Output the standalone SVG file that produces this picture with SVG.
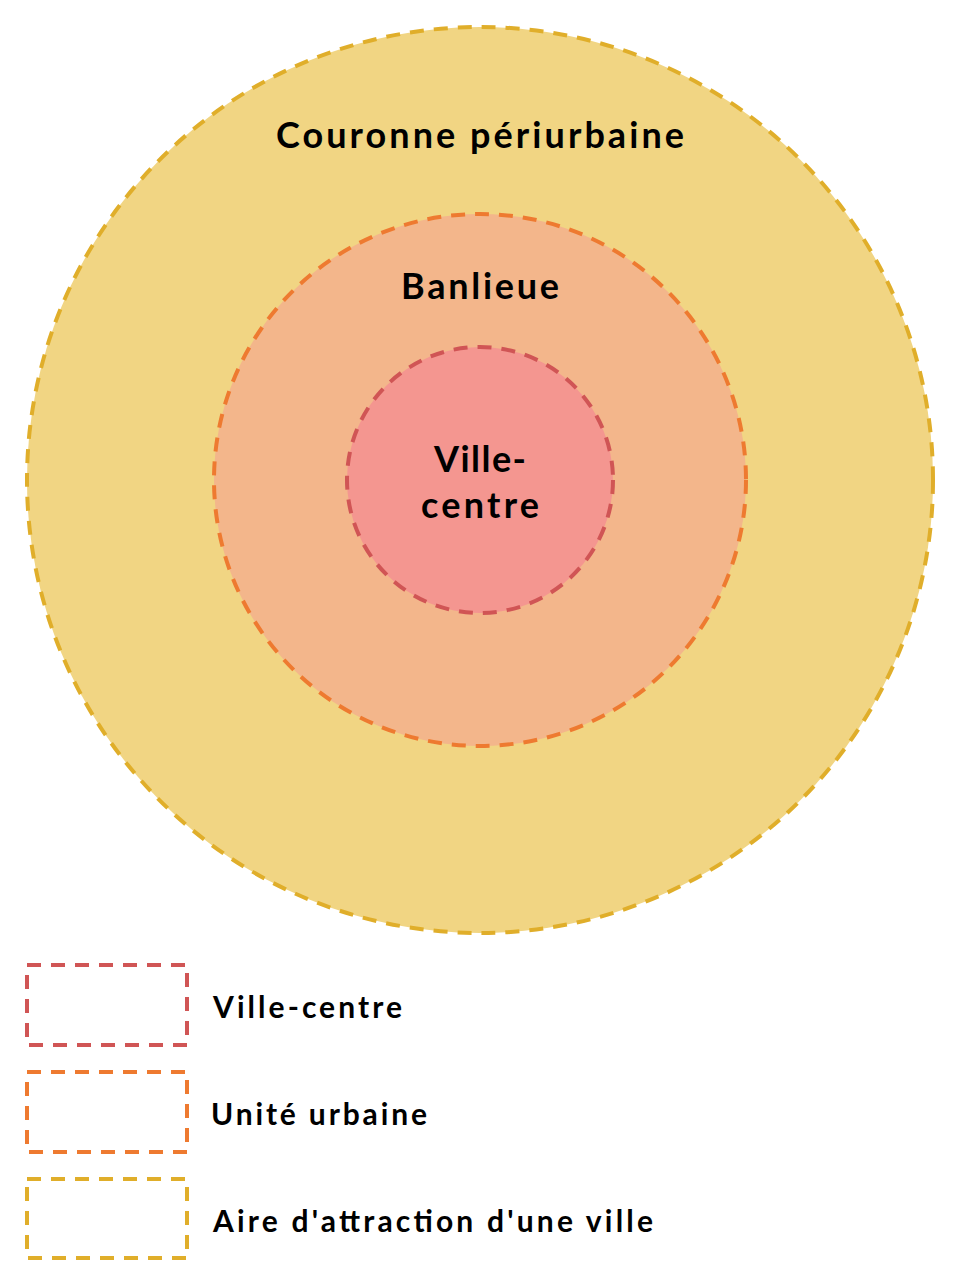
<svg xmlns="http://www.w3.org/2000/svg" width="960" height="1286" viewBox="0 0 960 1286">
<style>
text{font-family:"Lato","Liberation Sans",sans-serif;font-weight:bold;fill:#000}
.c{stroke-width:4;stroke-dasharray:14 10}
.l{fill:none;stroke-width:4;stroke-dasharray:14 10}
</style>
<rect width="960" height="1286" fill="#fff"/>
<g id="aire"><circle class="c" cx="480" cy="480" r="453" fill="#F1D583" stroke="#E0AE2A"/>
<text x="480" y="148" font-size="36" text-anchor="middle" textLength="408">Couronne périurbaine</text></g>
<g id="banlieue"><circle class="c" cx="480" cy="480" r="266" fill="#F3B68B" stroke="#EE7A30"/>
<text x="480" y="299" font-size="36" text-anchor="middle" textLength="158">Banlieue</text></g>
<g id="ville"><circle class="c" cx="480" cy="480" r="133" fill="#F49690" stroke="#D05555"/>
<text x="480" y="472" font-size="36" text-anchor="middle" textLength="92">Ville-</text>
<text x="480" y="518" font-size="36" text-anchor="middle" textLength="118">centre</text></g>
<g id="legend1"><rect class="l" x="27" y="965" width="160" height="80" stroke="#D05555"/>
<text x="213" y="1018" font-size="30" textLength="189">Ville-centre</text></g>
<g id="legend2"><rect class="l" x="27" y="1072" width="160" height="80" stroke="#EE7A30"/>
<text x="211" y="1125" font-size="30" textLength="216">Unité urbaine</text></g>
<g id="legend3"><rect class="l" x="27" y="1179" width="160" height="79" stroke="#E0AE2A"/>
<text x="213" y="1232" font-size="30" textLength="440">Aire d'attraction d'une ville</text></g>
<g id="connectors"/>
</svg>
